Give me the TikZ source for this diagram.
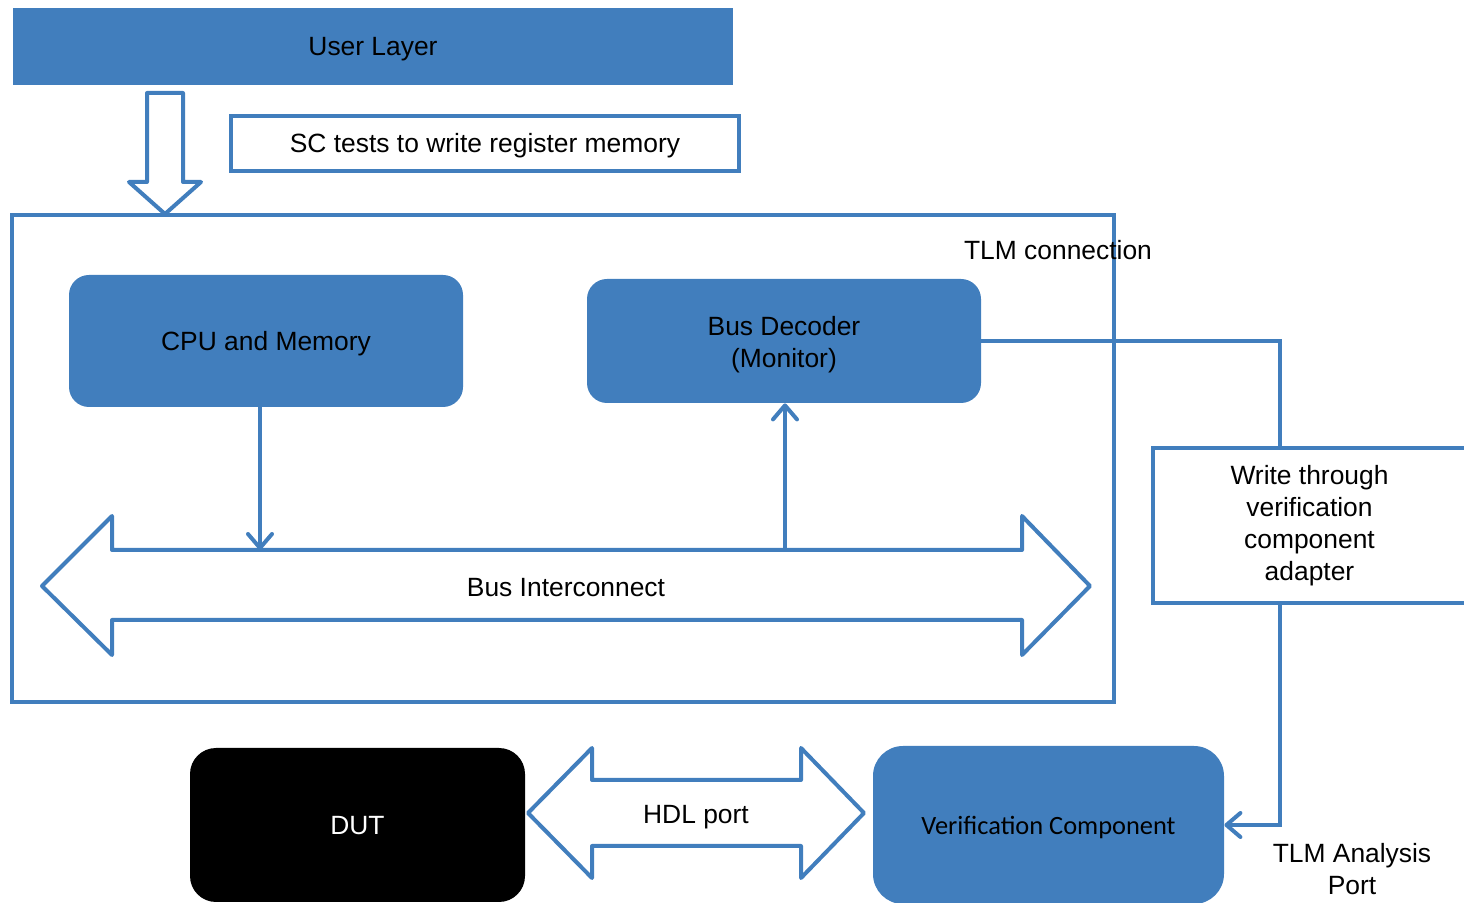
\documentclass[tikz,border=0pt]{standalone}
\usepackage{fontspec}
\setmainfont{Liberation Sans}
\newfontfamily\calibrifont{Carlito}
\usetikzlibrary{arrows.meta,calc}
\definecolor{ublue}{RGB}{65,126,189}
% strut with the ascent and descent of the text face
\newcommand\linestrut{\rule[-2.8pt]{0pt}{14.7pt}}
\begin{document}
\begin{tikzpicture}[x=0.5pt,y=-0.5pt,
  font=\fontsize{13.2}{16}\selectfont,
  every node/.style={execute at begin node=\linestrut, execute at end node=\linestrut},
  solidbox/.style={fill=ublue, draw=none, inner sep=0pt, align=center},
  roundbox/.style={solidbox, rounded corners=10pt},
  outline/.style={draw=ublue, line width=2pt, inner sep=0pt, align=center},
  link/.style={draw=ublue, line width=2pt},
  barb/.style={-{Straight Barb[length=7pt,width=12pt,line cap=round,line join=round]}},
  hollow/.style={draw=ublue, line width=2pt, line join=round, fill=white},
  label/.style={inner sep=0pt, align=center}]
\useasboundingbox (0,0) rectangle (1464,903);
\clip (0,0) rectangle (1464,903);

% top layer and test caption
\node[solidbox, minimum width=360pt, minimum height=38.5pt] (user) at (373,46.5) {User Layer};
\node[outline, fill=white, minimum width=254pt, minimum height=27.5pt] (sctest) at (485,143.5) {SC tests to write register memory};

% system frame
\node[outline, minimum width=551pt, minimum height=243.5pt] (sys) at (563,458.5) {};

% hollow arrow from the user layer into the system
\draw[hollow] (147,93) -- (183,93) -- (183,182) -- (201,182) -- (165,214)
  -- (129,182) -- (147,182) -- cycle;

% blocks inside the system
\node[roundbox, minimum width=197pt, minimum height=66pt] (cpu) at (266,341) {CPU and Memory};
\node[roundbox, minimum width=197pt, minimum height=62pt] (dec) at (784,341)
  {\rule{0pt}{13.6pt}Bus Decoder\\(Monitor)};
\node[label] (tlmc) at (1058,250) {TLM connection};

% bus interconnect as a double arrow
\draw[hollow] (42,586) -- (112,516) -- (112,550) -- (1022,550) -- (1022,516)
  -- (1090,586) -- (1022,655) -- (1022,620) -- (112,620) -- (112,655) -- cycle;
\node[label] (bus) at (566,587) {Bus Interconnect};
\coordinate (busin) at (260,550);
\coordinate (busout) at (785,549);

\draw[link, barb] (cpu.south -| busin) -- (busin);
\draw[link, barb] (busout) -- (dec.south -| busout);

% adapter on the right
\node[outline, fill=white, minimum width=156.5pt, minimum height=77.5pt] (adapt) at (1309.5,525.5)
  {Write through\\verification\\component\\adapter};
\coordinate (tapx) at ($(adapt.north)+(-29.5,0)$);
\draw[link] (dec.east) -| (tapx);

% bottom row
\node[solidbox, fill=black, text=white, rounded corners=13pt, minimum width=167.5pt, minimum height=77pt] (dut) at (357.5,825) {DUT};
\node[solidbox, rounded corners=15pt, minimum width=175.5pt, minimum height=79pt, font=\calibrifont\fontsize{13.2}{16}\selectfont] (vc) at (1048.5,825) {Verification Component};

\draw[hollow] (528,813) -- (592,748) -- (592,780) -- (801,780) -- (801,748)
  -- (864,813) -- (801,878) -- (801,846) -- (592,846) -- (592,878) -- cycle;
\node[label] (hdl) at (696,814) {HDL port};

\draw[link, barb] ($(adapt.south)+(-29.5,0)$) |- (vc.east);
\node[label] (tap) at (1352,872) {TLM Analysis\\Port};
\end{tikzpicture}
\end{document}
